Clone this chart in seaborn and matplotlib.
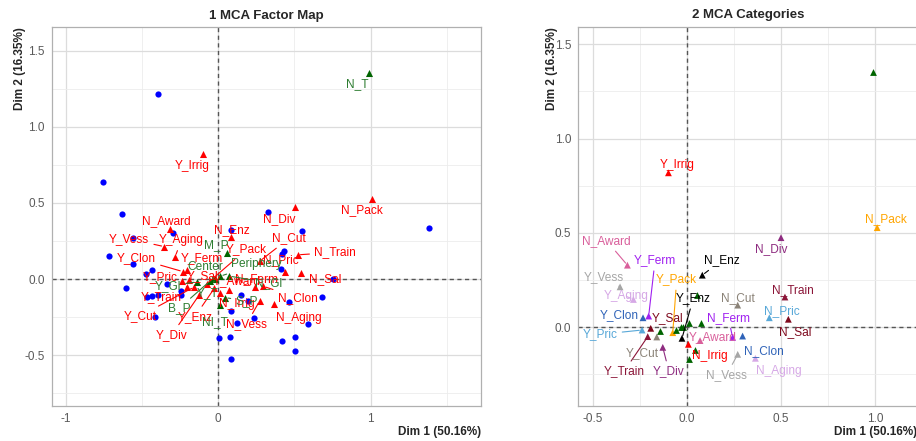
import numpy as np
import pandas as pd
import matplotlib
matplotlib.use("Agg")
import matplotlib.pyplot as plt
import seaborn as sns

# active categories (Dim 1, Dim 2)
cat_names = ["Y_Irrig", "N_Irrig", "Y_Pack", "N_Pack", "Y_Div", "N_Div",
             "Y_Award", "N_Award", "Y_Enz", "N_Enz", "Y_Vess", "N_Vess",
             "Y_Aging", "N_Aging", "Y_Train", "N_Train", "Y_Cut", "N_Cut",
             "Y_Ferm", "N_Ferm", "Y_Clon", "N_Clon", "Y_Pric", "N_Pric",
             "Y_Sal", "N_Sal"]
cat_dim1 = [-0.097, 0.009, -0.074, 1.012, -0.127, 0.501,
            0.071, -0.315, -0.025, 0.083, -0.354, 0.271,
            -0.283, 0.365, -0.207, 0.522, -0.159, 0.271,
            -0.202, 0.244, -0.232, 0.297, -0.237, 0.439,
            -0.191, 0.540]
cat_dim2 = [0.818, -0.092, -0.030, 0.527, -0.108, 0.474,
            -0.072, 0.328, -0.060, 0.275, 0.213, -0.145,
            0.146, -0.166, -0.051, 0.159, -0.053, 0.116,
            0.058, -0.055, 0.049, -0.048, -0.016, 0.049,
            -0.007, 0.041]

# supplementary categories
sup_names = ["N_T", "M_P", "Y_Gl", "B_P", "Center", "Y_T", "Periphery",
             "N_Gl", "S_P", "NI_T"]
sup_dim1 = [0.988, 0.057, -0.142, -0.057, -0.032, -0.018, 0.014, 0.074, 0.046, 0.011]
sup_dim2 = [1.353, 0.171, -0.019, -0.016, 0.002, 0.002, 0.019, 0.019, -0.122, -0.171]

# individuals
ind_dim1 = [-0.398, -0.755, -0.634, -0.295, -0.558, -0.720, -0.562, -0.433, -0.475,
            -0.606, -0.437, -0.470, -0.398, -0.335, -0.241, -0.241, -0.413, 0.081,
            0.324, 0.553, 0.433, 0.416, 0.411, 0.755, 1.380, 0.678, 0.466, 0.147,
            0.197, 0.087, 0.238, 0.125, 0.591, 0.007, 0.077, 0.416, 0.503, 0.505,
            0.081]
ind_dim2 = [1.217, 0.639, 0.427, 0.300, 0.267, 0.153, 0.098, 0.057, 0.033,
            -0.059, -0.112, -0.116, -0.103, -0.035, -0.077, -0.103, -0.247, 0.324,
            0.438, 0.317, 0.186, 0.164, 0.068, 0.000, 0.335, -0.120, -0.153, -0.103,
            -0.144, -0.212, -0.254, -0.289, -0.295, -0.387, -0.381, -0.405, -0.381, -0.473,
            -0.527]

var_colors = {"Irrig": "#FF0000", "Pack": "#FFA500", "Div": "#8E2C80",
              "Award": "#D95F9B", "Enz": "#000000", "Vess": "#A6A6A6",
              "Aging": "#D6A8E6", "Train": "#8B1538", "Cut": "#8B8378",
              "Ferm": "#A020F0", "Clon": "#2F63B8", "Pric": "#58A8D8",
              "Sal": "#7F0A1E"}

# label positions (ggrepel-like placement)
lab_left = {
    "Y_Irrig": (-0.171, 0.744), "N_Pack": (0.94, 0.453), "N_T": (0.914, 1.28),
    "N_Div": (0.40, 0.396), "N_Award": (-0.339, 0.383), "N_Enz": (0.087, 0.322),
    "N_Cut": (0.466, 0.269), "Y_Vess": (-0.584, 0.263), "Y_Aging": (-0.241, 0.256),
    "M_P": (-0.011, 0.223), "Y_Pack": (0.186, 0.195), "N_Train": (0.766, 0.175),
    "Y_Clon": (-0.536, 0.136), "Y_Ferm": (-0.109, 0.14), "N_Pric": (0.411, 0.125),
    "Center": (-0.083, 0.081), "Periphery": (0.252, 0.096), "N_Sal": (0.70, -0.002),
    "Y_Pric": (-0.383, 0.011), "Y_Sal": (-0.10, 0.02), "Y_Award": (0.12, -0.013),
    "N_Ferm": (0.25, -0.002), "N_Gl": (0.33, -0.024), "Y_Gl": (-0.33, -0.046),
    "Y_Train": (-0.372, -0.116), "N_Clon": (0.52, -0.122), "Y_T": (-0.07, -0.09),
    "S_P": (0.186, -0.144), "N_Irrig": (0.125, -0.164), "B_P": (-0.258, -0.193),
    "Y_Cut": (-0.514, -0.243), "Y_Enz": (-0.153, -0.247), "NI_T": (-0.022, -0.28),
    "N_Vess": (0.186, -0.295), "N_Aging": (0.531, -0.258), "Y_Div": (-0.306, -0.368),
}
line_left = {"Y_Vess", "Y_Aging", "Y_Clon", "N_Cut", "N_Train", "Y_Pack", "N_Pric",
             "Y_Train", "Y_Cut", "Y_Enz", "Y_Div", "N_Clon", "N_Vess", "Y_Gl",
             "B_P", "Center", "Periphery", "S_P", "Y_T", "N_Gl", "Y_Pric"}

lab_right = {
    "Y_Irrig": (-0.053, 0.857), "N_Pack": (1.057, 0.57), "N_Award": (-0.425, 0.457),
    "N_Div": (0.451, 0.413), "N_Enz": (0.186, 0.354), "Y_Ferm": (-0.168, 0.354),
    "Y_Vess": (-0.442, 0.266), "Y_Pack": (-0.053, 0.252), "Y_Aging": (-0.324, 0.164),
    "Y_Enz": (0.035, 0.152), "N_Cut": (0.271, 0.152), "N_Train": (0.566, 0.196),
    "N_Pric": (0.504, 0.086), "Y_Clon": (-0.359, 0.063), "Y_Sal": (-0.103, 0.049),
    "N_Ferm": (0.221, 0.049), "N_Sal": (0.575, -0.025), "Y_Pric": (-0.46, -0.039),
    "Y_Award": (0.136, -0.051), "N_Clon": (0.411, -0.127), "Y_Cut": (-0.234, -0.136),
    "N_Irrig": (0.124, -0.153), "Y_Train": (-0.333, -0.236), "Y_Div": (-0.094, -0.236),
    "N_Vess": (0.212, -0.254), "N_Aging": (0.492, -0.231),
}
line_right = {"N_Award", "Y_Ferm", "Y_Pack", "N_Enz", "Y_Enz", "Y_Pric",
              "Y_Train", "Y_Div", "N_Vess", "N_Ferm", "Y_Vess", "Y_Aging"}

cats = pd.DataFrame({"name": cat_names, "Dim1": cat_dim1, "Dim2": cat_dim2})
cats["var"] = cats["name"].str.split("_").str[1]
sups = pd.DataFrame({"name": sup_names, "Dim1": sup_dim1, "Dim2": sup_dim2})
inds = pd.DataFrame({"Dim1": ind_dim1, "Dim2": ind_dim2})

sns.set_theme(style="white")
plt.rcParams["font.family"] = ["Liberation Sans", "DejaVu Sans"]

fig = plt.figure(figsize=(9.16, 4.41), dpi=100)
ax1 = fig.add_axes([0.0564, 0.080, 0.4683, 0.858])
ax2 = fig.add_axes([0.6313, 0.0794, 0.3703, 0.860])


def style_axes(ax, xlim, ylim, xmaj, xmin, ymaj, ymin, xfmt, ypad):
    ax.set_xlim(*xlim)
    ax.set_ylim(*ylim)
    ax.set_xticks(xmaj)
    ax.set_xticklabels([xfmt(v) for v in xmaj])
    ax.set_xticks(xmin, minor=True)
    ax.set_yticks(ymaj)
    ax.set_yticklabels(["%.1f" % v for v in ymaj])
    ax.set_yticks(ymin, minor=True)
    ax.grid(which="major", color="#DCDCDC", lw=0.9)
    ax.grid(which="minor", color="#ECECEC", lw=0.6)
    ax.set_axisbelow(True)
    ax.tick_params(which="major", length=3, width=0.6, color="#8C8C8C",
                   labelsize=8.5, labelcolor="#5A5A5A", pad=2)
    ax.tick_params(which="minor", length=0)
    for s in ax.spines.values():
        s.set_color("#B0B0B0")
        s.set_linewidth(0.9)
    ax.axhline(0, color="#555555", ls=(0, (3, 2.5)), lw=1.0, zorder=1)
    ax.axvline(0, color="#555555", ls=(0, (3, 2.5)), lw=1.0, zorder=1)
    ax.set_xlabel("Dim 1 (50.16%)", fontsize=8.5, fontweight="bold", loc="right",
                  labelpad=1)
    ax.set_ylabel("Dim 2 (16.35%)", fontsize=8.5, fontweight="bold", loc="top",
                  labelpad=ypad)


def add_label(ax, text, pt, pos, color, line):
    if line:
        ax.annotate(text, xy=pt, xytext=pos, ha="center", va="center",
                    fontsize=8.6, color=color, zorder=4,
                    arrowprops=dict(arrowstyle="-", color=color, lw=0.8,
                                    shrinkA=1, shrinkB=2))
    else:
        ax.text(pos[0], pos[1], text, ha="center", va="center",
                fontsize=8.6, color=color, zorder=4)


# ---- panel 1: factor map ----
style_axes(ax1, (-1.093, 1.722), (-0.832, 1.653), [-1, 0, 1], [-0.5, 0.5, 1.5],
           [-0.5, 0, 0.5, 1.0, 1.5], [-0.75, -0.25, 0.25, 0.75, 1.25],
           lambda v: "%d" % v, ypad=-1)
sns.scatterplot(data=inds, x="Dim1", y="Dim2", ax=ax1, color="#0000FF",
                s=20, linewidth=0, zorder=3, legend=False)
sns.scatterplot(data=cats, x="Dim1", y="Dim2", ax=ax1, color="#FF0000",
                marker="^", s=26, linewidth=0, zorder=3, legend=False)
sns.scatterplot(data=sups, x="Dim1", y="Dim2", ax=ax1, color="#006400",
                marker="^", s=26, linewidth=0, zorder=3, legend=False)
for _, r in cats.iterrows():
    add_label(ax1, r["name"], (r["Dim1"], r["Dim2"]), lab_left[r["name"]],
              "#FF0000", r["name"] in line_left)
for _, r in sups.iterrows():
    add_label(ax1, r["name"], (r["Dim1"], r["Dim2"]), lab_left[r["name"]],
              "#2E7D32", r["name"] in line_left)
ax1.set_title("1 MCA Factor Map", fontsize=9.5, fontweight="bold", pad=6)

# ---- panel 2: categories ----
style_axes(ax2, (-0.576, 1.226), (-0.419, 1.593), [-0.5, 0.0, 0.5, 1.0],
           [-0.25, 0.25, 0.75], [0.0, 0.5, 1.0, 1.5], [-0.25, 0.25, 0.75, 1.25],
           lambda v: "%.1f" % v, ypad=-2)
sns.scatterplot(data=cats, x="Dim1", y="Dim2", hue="var", palette=var_colors,
                ax=ax2, marker="^", s=24, linewidth=0, zorder=3, legend=False)
sns.scatterplot(data=sups, x="Dim1", y="Dim2", ax=ax2, color="#006400",
                marker="^", s=24, linewidth=0, zorder=3, legend=False)
for _, r in cats.iterrows():
    add_label(ax2, r["name"], (r["Dim1"], r["Dim2"]), lab_right[r["name"]],
              var_colors[r["var"]], r["name"] in line_right)
ax2.set_title("2 MCA Categories", fontsize=9.5, fontweight="bold", pad=6)

fig.savefig("out.png", dpi=100)
